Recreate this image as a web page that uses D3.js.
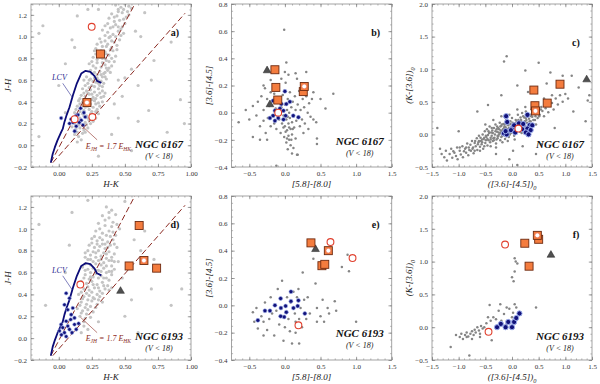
<!DOCTYPE html>
<html>
<head>
<meta charset="utf-8">
<script src="https://cdn.jsdelivr.net/npm/d3@7"></script>
<style>
body{margin:0;background:#fff}
text{font-family:"Liberation Serif","DejaVu Serif",serif}
</style>
</head>
<body>
<script>
let width = 600
let height = 384

// tick labels
let ticksHK = [0, 0.25, 0.5, 0.75, 1.0]
let ticksJH = [-0.2, 0, 0.2, 0.4, 0.6, 0.8, 1.0, 1.2]
let ticks58 = [-0.5, 0, 0.5, 1.0, 1.5]
let ticks36 = [-0.4, -0.2, 0, 0.2, 0.4, 0.6, 0.8]
let ticks3645 = [-1.5, -1.0, -0.5, 0, 0.5, 1.0, 1.5]
let ticksK36 = [-0.5, 0, 0.5, 1.0, 1.5, 2.0]

let panelLabels = ["a)", "b)", "c)", "d)", "e)", "f)"]
let clusters = ["NGC 6167", "NGC 6193"]

// intrinsic locus (LCV) and reddening vectors, J-H vs H-K
let lcv = [[-0.06,-0.16],[-0.046,-0.08],[-0.03,-0.02],[-0.01,0.045],[0.018,0.12],[0.03,0.15],[0.043,0.215],[0.06,0.28],[0.081,0.35],[0.107,0.46],[0.137,0.57],[0.17,0.66],[0.203,0.685],[0.239,0.676],[0.271,0.636],[0.289,0.593],[0.322,0.574]]
let redLine1 = [[-0.06,-0.16],[0.575,1.3]]
let redLine2 = [[-0.045,-0.16],[0.955,1.215]]

// panel a: NGC 6167 J-H vs H-K
let grayA = [[0.43,1.29],[0.47,1.27],[0.50,1.30],[0.53,1.28],[0.45,1.25],[0.55,1.26],
  [0.40,1.21],[0.44,1.19],[0.48,1.22],[0.51,1.18],[0.38,1.17],[0.46,1.15],[0.53,1.2],[0.42,1.14],
  [0.35,1.10],[0.39,1.08],[0.43,1.11],[0.47,1.07],[0.50,1.12],[0.37,1.04],[0.41,1.02],[0.45,1.05],[0.33,1.06],[0.49,1.03],
  [0.31,0.98],[0.35,0.96],[0.38,0.99],[0.42,0.95],[0.46,0.97],[0.29,0.93],[0.33,0.91],[0.37,0.93],[0.40,0.90],[0.44,0.92],
  [0.27,0.87],[0.30,0.85],[0.35,0.86],[0.38,0.83],[0.41,0.87],[0.26,0.81],[0.29,0.79],[0.33,0.8],[0.36,0.78],[0.40,0.80],[0.43,0.82],
  [0.23,0.75],[0.26,0.73],[0.29,0.76],[0.32,0.72],[0.35,0.74],[0.38,0.71],[0.24,0.69],[0.27,0.67],[0.31,0.68],[0.34,0.66],[0.37,0.69],[0.40,0.73],
  [0.21,0.63],[0.24,0.61],[0.27,0.62],[0.30,0.60],[0.33,0.63],[0.36,0.61],[0.22,0.57],[0.25,0.55],[0.28,0.58],[0.31,0.55],[0.34,0.57],[0.19,0.6],
  [0.18,0.52],[0.21,0.50],[0.24,0.51],[0.27,0.49],[0.30,0.52],[0.33,0.50],[0.17,0.46],[0.20,0.45],[0.23,0.47],[0.26,0.44],[0.29,0.46],[0.32,0.44],[0.35,0.48],
  [0.15,0.41],[0.18,0.40],[0.21,0.42],[0.24,0.38],[0.27,0.41],[0.30,0.39],[0.33,0.40],[0.14,0.36],[0.17,0.34],[0.20,0.35],[0.23,0.33],[0.26,0.35],[0.29,0.33],
  [0.12,0.30],[0.15,0.28],[0.18,0.29],[0.21,0.27],[0.24,0.29],[0.27,0.27],[0.30,0.29],[0.11,0.24],[0.14,0.22],[0.17,0.23],[0.20,0.21],[0.23,0.23],[0.26,0.22],
  [0.10,0.17],[0.13,0.15],[0.16,0.16],[0.19,0.14],[0.22,0.16],[0.12,0.1],[0.15,0.08],[0.18,0.11],[0.14,0.03],[0.17,0.05],
  [0.45,1.23],[0.49,1.25],[0.52,1.23],[0.42,1.18],[0.49,1.16],[0.37,1.12],[0.41,1.09],[0.45,1.09],[0.48,1.09],[0.35,1.01],[0.39,1.0],[0.43,1.0],
  [0.47,1.01],[0.32,0.95],[0.36,0.91],[0.40,0.96],[0.44,0.88],[0.28,0.89],[0.32,0.87],[0.36,0.84],[0.39,0.88],[0.28,0.84],[0.31,0.81],[0.35,0.8],
  [0.38,0.77],[0.42,0.77],[0.25,0.77],[0.28,0.71],[0.33,0.76],[0.36,0.71],[0.39,0.67],[0.25,0.66],[0.29,0.65],[0.32,0.65],[0.35,0.67],[0.23,0.6],
  [0.26,0.59],[0.29,0.62],[0.32,0.59],[0.35,0.63],[0.2,0.55],[0.23,0.53],[0.27,0.54],[0.3,0.57],[0.33,0.54],[0.19,0.48],[0.22,0.48],[0.25,0.47],
  [0.28,0.43],[0.31,0.48],[0.34,0.45],[0.16,0.43],[0.19,0.42],[0.22,0.38],[0.25,0.42],[0.28,0.38],[0.31,0.36],[0.16,0.38],[0.19,0.32],[0.22,0.36],
  [0.25,0.31],[0.28,0.31],[0.13,0.33],[0.16,0.31],[0.19,0.27],[0.22,0.25],[0.25,0.26],[0.28,0.25],[0.13,0.27],[0.16,0.25],[0.18,0.19],[0.21,0.19],
  [0.24,0.2],[0.12,0.2],[0.15,0.19],[0.14,0.12],[0.2,0.12],
  [-0.15,1.03],[-0.12,1.10],[0.14,1.19],[0.10,0.97],[0.12,0.9],[0.05,0.75],[-0.15,0.08],[0.92,0.42],[0.68,0.32],[0.82,0.12],[0.60,0.55],[0.72,0.78],
  [0.85,0.95],[0.62,1.0],[0.55,0.7],[0.48,0.45],[0.45,0.25],[0.4,0.1],[0.55,-0.05],[0.3,-0.1],[0.7,0.6],[0.95,0.2],[0.6,0.22],[0.0,0.55],
  [0.05,0.3],[0.22,1.25],[0.3,1.25],[0.58,1.05],[0.65,1.22],[0.5,0.62],[0.45,0.6],[0.42,0.38]]
let blueA = [[0.018,0.25],[0.094,0.24],[0.145,0.28],[0.165,0.34],[0.107,0.21],[0.132,0.175],[0.17,0.23],[0.19,0.30],[0.12,0.13],[0.081,0.20],[0.183,0.185],[0.2,0.26],[0.155,0.21],[0.13,0.27]]
let sqA = [[0.315,0.84]]
let sqDotA = [[0.213,0.393]]
let circA = [[0.249,1.09],[0.12,0.24],[0.254,0.26]]
let triA = []

// panel b: NGC 6167 [3.6]-[4.5] vs [5.8]-[8.0]
let grayB = [[-0.45,0.05],[-0.4,-0.02],[-0.38,0.08],[-0.35,-0.1],[-0.33,0.12],[-0.3,0.02],[-0.3,-0.06],[-0.28,0.18],[-0.27,-0.15],[-0.25,0.1],
  [-0.24,-0.04],[-0.22,0.05],[-0.2,0.15],[-0.2,-0.1],[-0.18,-0.02],[-0.17,0.08],[-0.15,-0.08],[-0.15,0.14],[-0.13,0.03],[-0.12,-0.12],
  [-0.1,0.0],[-0.1,0.2],[-0.08,-0.05],[-0.07,0.1],[-0.06,-0.15],[-0.05,0.04],[-0.04,-0.08],[-0.03,0.13],[-0.02,-0.02],[-0.01,-0.18],
  [0.0,0.06],[0.0,-0.1],[0.01,0.22],[0.02,-0.05],[0.02,-0.22],[0.03,0.02],[0.03,-0.13],[0.04,0.1],[0.04,-0.27],[0.05,-0.08],
  [0.05,-0.17],[0.06,0.0],[0.06,-0.2],[0.07,-0.04],[0.07,0.15],[0.08,-0.12],[0.08,-0.24],[0.09,0.04],[0.1,-0.07],[0.1,-0.16],
  [0.11,0.08],[0.12,-0.02],[0.12,-0.26],[0.13,-0.11],[0.14,0.12],[0.15,0.02],[0.15,-0.19],[0.16,-0.06],[0.17,0.25],[0.18,0.06],
  [0.19,-0.03],[0.2,0.16],[0.21,-0.1],[0.22,0.02],[0.24,-0.05],[0.25,0.1],[0.27,0.04],[0.28,-0.08],[0.3,0.12],[0.32,0.0],
  [0.34,0.07],[0.36,-0.03],[0.38,0.1],[0.4,0.15],[0.0,0.3],[0.02,0.37],[0.15,0.29],[-0.3,0.2],[-0.2,0.24],[0.3,0.3],
  [0.4,-0.05],[-0.35,-0.2],[-0.5,-0.05],[0.18,-0.31],[0.1,-0.3],[-0.05,0.25],[0.05,0.28],[-0.25,-0.2],[0.26,-0.15],[0.33,-0.12],
  [0.01,-0.14],[0.03,-0.19],[0.06,-0.11],[0.09,-0.2],[-0.02,-0.11],[0.04,-0.03],[0.11,-0.12],[-0.08,0.03],
  [-0.01,0.61],[0.68,0.14],[0.57,0.03],[0.44,-0.07],[0.45,-0.23],[0.45,-0.19],[-0.65,-0.07],[-0.12,-0.39],[0.17,-0.31],[0.5,0.1],[-0.45,-0.18],[-0.55,0.02]]
let blueB = [[0.0,0.157],[-0.165,0.088],[-0.05,0.064],[0.02,0.064],[0.07,0.08],[-0.14,0.015],[-0.07,0.03],[-0.02,0.015],[-0.165,-0.022],[-0.094,-0.04],[0.01,-0.022],[0.117,-0.022],[0.19,-0.034],[-0.21,-0.04],[-0.14,-0.06],[-0.02,-0.05]]
let sqB = [[-0.14,0.316],[-0.127,0.186],[-0.1,0.093],[0.258,0.155]]
let sqDotB = [[0.272,0.193]]
let circB = [[-0.094,0.0]]
let triB = [[-0.25,0.31],[-0.21,0.06]]

// panel c: NGC 6167 (K-[3.6])0 vs ([3.6]-[4.5])0
let grayC = [[-1.35,-0.22],[-1.32,-0.3],[-1.27,-0.35],[-1.24,-0.25],[-1.22,-0.4],[-1.17,-0.3],[-1.14,-0.22],[-1.12,-0.36],
  [-1.08,-0.28],[-1.05,-0.33],[-1.03,-0.2],[-1.02,-0.38],[-0.98,-0.25],[-0.96,-0.31],[-0.93,-0.18],[-0.92,-0.35],
  [-0.88,-0.22],[-0.86,-0.28],[-0.84,-0.14],[-0.82,-0.32],[-0.81,-0.2],[-0.78,-0.16],[-0.77,-0.25],[-0.75,-0.1],[-0.73,-0.2],[-0.72,-0.29],[-0.7,-0.13],
  [-0.68,-0.18],[-0.66,-0.06],[-0.65,-0.24],[-0.63,-0.12],[-0.62,-0.02],[-0.6,-0.19],
  [-0.58,-0.1],[-0.57,-0.15],[-0.55,0.0],[-0.54,-0.22],[-0.53,-0.07],[-0.51,0.05],[-0.5,-0.13],
  [-0.48,-0.04],[-0.47,0.08],[-0.46,-0.17],[-0.44,-0.09],[-0.43,0.02],[-0.42,0.12],[-0.41,-0.12],
  [-0.38,-0.02],[-0.37,0.06],[-0.36,-0.1],[-0.34,0.1],[-0.33,-0.05],[-0.32,0.0],[-0.31,0.15],[-0.3,-0.14],
  [-0.28,0.04],[-0.27,-0.06],[-0.26,0.1],[-0.24,0.0],[-0.23,0.18],[-0.22,-0.09],[-0.21,0.06],[-0.2,0.13],
  [-0.18,-0.02],[-0.17,0.08],[-0.16,0.16],[-0.14,0.03],[-0.13,-0.07],[-0.12,0.11],[-0.11,0.22],[-0.1,0.0],
  [-0.08,0.06],[-0.07,0.14],[-0.06,-0.04],[-0.04,0.1],[-0.03,0.2],[-0.02,0.02],[-0.01,0.12],[0.0,0.25],
  [0.02,0.08],[0.03,0.17],[0.04,-0.02],[0.06,0.12],[0.07,0.22],[0.08,0.05],[0.1,0.15],[0.11,0.3],
  [0.12,0.1],[0.14,0.2],[0.15,0.04],[0.16,0.26],[0.18,0.14],[0.19,0.33],[0.2,0.08],
  [0.22,0.18],[0.23,0.26],[0.25,0.12],[0.26,0.35],[0.27,0.22],[0.29,0.28],[0.3,0.16],
  [0.32,0.24],[0.34,0.3],[0.35,0.2],[0.37,0.38],[0.38,0.27],[0.4,0.22],
  [0.42,0.32],[0.44,0.28],[0.46,0.4],[0.48,0.25],[0.5,0.35],[0.52,0.3],[0.55,0.42],[0.57,0.36],[0.6,0.28],
  [0.63,0.4],[0.66,0.5],[0.68,0.34],[0.7,0.44],[0.75,0.48],[0.78,0.38],[0.82,0.55],[0.86,0.46],[0.9,0.6],[0.95,0.5],[1.0,0.62],[1.05,0.55],
  [-0.52,-0.05],[-0.45,-0.01],[-0.39,0.03],[-0.35,-0.06],[-0.29,0.08],[-0.25,0.03],[-0.19,0.05],[-0.15,0.1],[-0.09,0.08],[-0.05,0.03],[0.01,0.1],[0.05,0.15],
  [-0.62,-0.1],[-0.56,-0.08],[-0.49,-0.09],[-0.4,-0.05],[-0.27,-0.02],[-0.22,0.12],[-0.14,0.15],[0.09,0.2],[0.17,0.2],[0.24,0.2],
  [-0.9,-0.26],[-0.8,-0.24],[-0.74,-0.22],[-0.69,-0.1],[-0.64,-0.15],[-0.59,-0.05],[-0.56,-0.12],[-0.52,-0.18],[-0.49,-0.02],[-0.46,-0.07],
  [-0.44,0.05],[-0.4,-0.08],[-0.38,0.1],[-0.36,0.02],[-0.34,-0.09],[-0.31,0.05],[-0.29,-0.08],[-0.28,0.12],[-0.26,-0.03],[-0.24,0.08],
  [-0.22,0.02],[-0.2,-0.04],[-0.19,0.15],[-0.17,0.0],[-0.16,0.05],[-0.14,0.12],[-0.12,0.04],[-0.11,-0.03],[-0.09,0.15],[-0.08,-0.01],
  [-0.06,0.1],[-0.04,0.0],[-0.03,0.16],[-0.01,0.06],[0.01,0.18],[0.03,0.1],[0.05,0.05],[0.07,0.17],[0.09,0.1],[0.12,0.22],
  [0.13,0.16],[0.15,0.12],[0.17,0.22],[0.2,0.18],[0.21,0.28],[0.23,0.14],[0.26,0.25],[0.28,0.18],[0.31,0.3],[0.33,0.2],
  [0.36,0.28],[0.39,0.33],[0.43,0.22],[0.47,0.33],[0.51,0.28],[0.54,0.38],[-0.98,-0.2],[-1.1,-0.26],[-0.86,-0.2],[-0.6,-0.25],
  [-0.7,-0.25],[-0.4,-0.18],[-0.3,-0.2],[-0.18,-0.12],[-0.08,-0.1],[0.05,-0.08],[0.18,0.02],[0.3,0.08],[0.45,0.15],[-0.5,0.15],
  [-0.35,0.22],[-0.2,0.28],[-0.05,0.3],[0.1,0.38],[0.25,0.42],[0.4,0.45],[0.6,0.55],[0.75,0.6],
  [1.45,0.6],[1.42,0.52],[1.38,0.2],[1.15,0.35],[1.12,0.9],[0.95,0.9],[0.72,0.95],[0.25,0.98],[-0.1,1.2],[-0.15,1.12],[0.5,1.1],
  [0.1,0.75],[-0.2,0.6],[-0.45,0.45],[-0.65,0.35],[-0.05,-0.38],[0.1,-0.47],[0.55,-0.15],[0.45,-0.3],[0.8,0.1],[-1.4,0.1],[-1.0,0.05],
  [0.3,0.65],[0.65,0.78],[1.25,0.72],[0.02,-0.25],[-0.3,-0.3],[0.2,-0.18]]
let blueC = [[-0.11,0.28],[-0.09,0.19],[0.0,0.09],[-0.15,0.015],[-0.1,0.0],[-0.02,0.065],[0.04,0.14],[0.13,0.17],[0.19,0.08],[0.21,0.16],[0.29,0.3],[0.33,0.14],[0.38,0.14],[0.29,0.09],[0.26,0.03],[0.35,0.066],[0.31,0.0],[0.06,0.03],[-0.12,0.05]]
let sqC = [[0.41,0.68],[0.9,0.77],[0.66,0.48],[0.43,0.44]]
let sqDotC = [[0.44,0.36]]
let circC = [[0.12,0.09]]
let triC = [[1.4,0.84]]

// panel d: NGC 6193 J-H vs H-K
let grayD = [[0.36,1.2],[0.4,1.17],[0.33,1.12],[0.38,1.1],[0.43,1.13],[0.3,1.05],[0.35,1.03],[0.41,1.06],[0.46,1.0],[0.28,0.98],[0.33,0.96],[0.38,0.98],[0.43,0.94],
  [0.25,0.91],[0.29,0.89],[0.33,0.9],[0.37,0.88],[0.41,0.9],[0.23,0.85],[0.27,0.83],[0.31,0.84],[0.35,0.82],[0.39,0.85],[0.44,0.83],
  [0.2,0.78],[0.24,0.76],[0.28,0.78],[0.32,0.75],[0.36,0.77],[0.4,0.74],[0.22,0.72],[0.26,0.70],[0.3,0.71],[0.34,0.69],[0.38,0.71],[0.42,0.7],
  [0.18,0.65],[0.22,0.63],[0.26,0.64],[0.3,0.62],[0.34,0.64],[0.38,0.61],[0.42,0.63],[0.2,0.58],[0.24,0.56],[0.28,0.59],[0.32,0.57],[0.36,0.55],[0.4,0.58],
  [0.17,0.52],[0.21,0.5],[0.25,0.52],[0.29,0.49],[0.33,0.51],[0.37,0.48],[0.19,0.45],[0.23,0.44],[0.27,0.46],[0.31,0.43],[0.35,0.45],[0.4,0.46],
  [0.15,0.4],[0.19,0.38],[0.23,0.39],[0.27,0.36],[0.31,0.38],[0.17,0.33],[0.21,0.31],[0.25,0.34],[0.29,0.31],[0.33,0.33],
  [0.14,0.27],[0.18,0.25],[0.22,0.26],[0.26,0.24],[0.16,0.2],[0.2,0.18],[0.24,0.19],[0.15,0.13],[0.19,0.11],[0.22,0.08],[0.17,0.05],
  [0.38,1.15],[0.35,1.08],[0.4,1.02],[0.44,1.04],[0.31,1.0],[0.36,0.94],[0.41,0.97],[0.27,0.93],[0.31,0.92],[0.35,0.86],[0.39,0.93],
  [0.25,0.87],[0.29,0.86],[0.33,0.86],[0.37,0.83],[0.42,0.86],[0.22,0.8],[0.26,0.79],[0.3,0.8],[0.34,0.78],[0.38,0.79],[0.42,0.77],
  [0.2,0.74],[0.24,0.72],[0.28,0.74],[0.32,0.72],[0.36,0.73],[0.4,0.71],[0.2,0.68],[0.24,0.67],[0.28,0.68],[0.32,0.67],[0.36,0.66],
  [0.4,0.66],[0.2,0.62],[0.24,0.6],[0.28,0.62],[0.32,0.61],[0.36,0.6],[0.4,0.61],[0.19,0.55],[0.23,0.54],[0.26,0.56],[0.3,0.55],
  [0.34,0.55],[0.38,0.53],[0.18,0.49],[0.22,0.47],[0.26,0.49],[0.3,0.46],[0.34,0.48],[0.38,0.44],[0.17,0.42],[0.21,0.41],[0.25,0.42],
  [0.29,0.4],[0.33,0.41],[0.18,0.36],[0.22,0.35],[0.26,0.37],[0.3,0.35],[0.16,0.3],[0.2,0.28],[0.24,0.29],[0.28,0.28],[0.17,0.23],
  [0.21,0.22],[0.19,0.15],
  [-0.15,1.04],[0.1,1.15],[0.22,1.26],[0.5,1.25],[0.57,0.9],[0.62,0.8],[0.72,0.72],[0.93,0.45],[0.85,0.3],[0.55,0.35],[0.5,0.2],
  [0.6,0.05],[0.05,0.6],[0.08,0.85],[-0.1,0.3],[0.45,0.7],[0.48,0.55],[0.7,0.45],[0.3,0.15],[0.65,0.98]]
let blueD = [[0.056,0.41],[0.081,0.365],[0.043,0.305],[0.068,0.26],[0.106,0.275],[0.094,0.215],[0.119,0.185],[0.056,0.155],[0.018,0.125],[0.03,0.096],[0.068,0.11],[0.005,0.066],[0.043,0.05],[0.056,0.015],[0.081,0.08],[0.119,0.125],[0.15,0.134],[0.132,0.08],[0.02,0.03],[0.1,0.05],[0.09,0.17]]
let sqD = [[0.608,1.03],[0.532,0.66],[0.74,0.64]]
let sqDotD = [[0.644,0.71]]
let circD = [[0.163,0.49]]
let triD = [[0.467,0.43]]

// panel e: NGC 6193 [3.6]-[4.5] vs [5.8]-[8.0]
let grayE = [[-0.43,-0.12],[-0.4,-0.02],[-0.38,-0.17],[-0.33,-0.08],[-0.3,-0.12],[-0.28,0.02],[-0.25,-0.18],[-0.22,-0.1],[-0.2,0.06],[-0.18,-0.06],
  [-0.15,-0.22],[-0.12,-0.04],[-0.1,0.12],[-0.08,-0.14],[-0.05,-0.08],[-0.04,0.18],[-0.02,-0.26],[0.0,-0.16],[0.03,0.06],[0.05,-0.1],
  [0.07,-0.19],[0.08,0.02],[0.1,-0.28],[0.12,0.1],[0.14,-0.06],[0.15,-0.2],[0.17,0.06],[0.19,0.12],[0.2,-0.1],[0.22,-0.02],
  [0.24,-0.16],[0.25,0.24],[0.27,0.04],[0.3,-0.1],[0.32,0.06],[0.35,-0.06],[0.4,0.34],[0.43,0.16],[0.45,-0.12],[0.5,-0.08],
  [0.53,0.04],[0.55,-0.12],[0.6,-0.02],[0.62,-0.06],[0.7,0.03],[0.72,-0.04],[0.8,0.28],[0.88,0.37],[0.9,0.25],[1.0,-0.12],
  [0.45,-0.02],[0.2,-0.28],[-0.3,-0.22],[0.15,-0.12],[-0.45,-0.05]]
let blueE = [[0.085,0.10],[-0.06,0.05],[0.085,0.03],[-0.14,0.0],[0.01,-0.005],[0.19,0.036],[0.18,-0.005],[-0.21,-0.04],[-0.28,-0.04],[-0.056,-0.02],[0.02,-0.05],[-0.01,-0.085],[0.28,-0.06],[-0.38,-0.11],[-0.06,-0.08],[0.12,-0.02]]
let sqE = [[0.366,0.457],[0.52,0.29],[0.56,0.30]]
let sqDotE = [[0.61,0.40]]
let circE = [[0.64,0.463],[0.95,0.346],[0.19,-0.146]]
let triE = [[0.43,0.41]]

// panel f: NGC 6193 (K-[3.6])0 vs ([3.6]-[4.5])0
let grayF = [[-1.15,-0.3],[-1.05,-0.12],[-0.98,-0.15],[-0.95,-0.1],[-0.92,-0.18],[-0.88,-0.12],[-0.85,-0.08],[-0.82,-0.14],[-0.8,-0.43],[-0.78,-0.1],
  [-0.75,-0.06],[-0.72,-0.12],[-0.7,-0.04],[-0.68,-0.08],[-0.65,0.0],[-0.62,-0.05],[-0.6,-0.1],[-0.58,0.02],[-0.55,-0.02],[-0.52,0.0],
  [-0.48,0.06],[-0.45,0.15],[-0.42,0.34],[-0.4,0.1],[-0.38,-0.2],[-0.35,0.15],[-0.3,0.12],[-0.25,0.25],[-0.22,0.35],[-0.2,0.1],
  [-0.15,0.2],[-0.1,0.3],[-0.05,0.28],[0.0,0.15],[0.02,0.22],[0.05,0.35],[0.08,0.3],[0.0,0.76],[0.03,0.7],[0.05,0.85],
  [0.05,1.05],[0.07,1.0],[0.1,0.97],[0.45,0.3],[-0.85,-0.15],[-0.75,-0.18],[-0.6,-0.15],[-0.1,0.05]]
let blueF = [[-0.28,0.0],[-0.21,0.05],[-0.12,0.0],[-0.07,0.08],[0.0,0.0],[0.04,0.08],[0.08,0.14],[0.14,0.21]]
let sqF = [[0.24,1.28],[0.5,1.34],[0.32,0.93]]
let sqDotF = [[0.475,1.40]]
let circF = [[-0.13,1.26],[-0.44,-0.07]]
let triF = [[0.73,1.1]]

let cols = [{x0: 31, x1: 191}, {x0: 231.5, x1: 391.7}, {x0: 432, x1: 592}]
let rows = [{y0: 4, y1: 167}, {y0: 196, y1: 360}]

let kinds = [
    {xd: [-0.21, 1.0], yd: [-0.2, 1.3], xt: ticksHK, yt: ticksJH, xf: ".2f", xm: 0.05, ym: 0.05, xtitle: ["H-K"], ytitle: ["J-H"], light: true, jhk: true},
    {xd: [-0.75, 1.5], yd: [-0.4, 0.8], xt: ticks58, yt: ticks36, xf: ".1f", xm: 0.1, ym: 0.05, xtitle: ["[5.8]-[8.0]"], ytitle: ["[3.6]-[4.5]"]},
    {xd: [-1.5, 1.5], yd: [-0.5, 2.0], xt: ticks3645, yt: ticksK36, xf: ".1f", xm: 0.1, ym: 0.1, xtitle: ["([3.6]-[4.5])", "0"], ytitle: ["(K-[3.6])", "0"]}
]

let sets = [
    {gray: grayA, blue: blueA, sq: sqA, sqDot: sqDotA, circ: circA, tri: triA},
    {gray: grayB, blue: blueB, sq: sqB, sqDot: sqDotB, circ: circB, tri: triB},
    {gray: grayC, blue: blueC, sq: sqC, sqDot: sqDotC, circ: circC, tri: triC},
    {gray: grayD, blue: blueD, sq: sqD, sqDot: sqDotD, circ: circD, tri: triD},
    {gray: grayE, blue: blueE, sq: sqE, sqDot: sqDotE, circ: circE, tri: triE},
    {gray: grayF, blue: blueF, sq: sqF, sqDot: sqDotF, circ: circF, tri: triF}
]

let svg = d3.select("body").append("svg")
    .attr("width", width)
    .attr("height", height)

let defs = svg.append("defs")

let addTitle = (sel, parts, size) => {
    sel.append("tspan").text(parts[0])
    if (parts[1]) sel.append("tspan").attr("font-size", size * 0.7).attr("dy", 2.5).text(parts[1])
}

let drawPanel = (i) => {
    let col = cols[i % 3], row = rows[Math.floor(i / 3)], k = kinds[i % 3], d = sets[i]
    let x = d3.scaleLinear().domain(k.xd).range([col.x0, col.x1])
    let y = d3.scaleLinear().domain(k.yd).range([row.y1, row.y0])
    let g = svg.append("g")

    defs.append("clipPath").attr("id", "clip" + i)
        .append("rect")
        .attr("x", col.x0).attr("y", row.y0)
        .attr("width", col.x1 - col.x0).attr("height", row.y1 - row.y0)

    let plot = g.append("g").attr("clip-path", "url(#clip" + i + ")")

    plot.selectAll(".gray").data(d.gray).join("circle")
        .attr("class", "gray")
        .attr("cx", p => x(p[0]))
        .attr("cy", p => y(p[1]))
        .attr("r", k.light ? 1.6 : 1.25)
        .attr("fill", k.light ? "#c4c4c4" : "#858585")

    if (k.jhk) {
        let ln = d3.line().x(p => x(p[0])).y(p => y(p[1]))
        ;[redLine1, redLine2].forEach(r => {
            plot.append("path").attr("d", ln(r))
                .attr("fill", "none").attr("stroke", "#8b2a22")
                .attr("stroke-width", 1).attr("stroke-dasharray", "6,3")
        })
        plot.append("path").attr("d", ln(lcv))
            .attr("fill", "none").attr("stroke", "#0c0c78")
            .attr("stroke-width", 1.8).attr("stroke-linejoin", "round")

        // annotations
        g.append("line")
            .attr("x1", x(0.03)).attr("y1", y(0.57)).attr("x2", x(0.1)).attr("y2", y(0.445))
            .attr("stroke", "#2a2a90").attr("stroke-width", 0.6)
        g.append("text").attr("x", x(0.005)).attr("y", y(0.6))
            .attr("text-anchor", "middle").attr("font-size", 8).attr("font-style", "italic")
            .attr("fill", "#2a2a90").text("LCV")
        g.append("line")
            .attr("x1", x(0.29)).attr("y1", y(0.05)).attr("x2", x(0.165)).attr("y2", y(0.19))
            .attr("stroke", "#8b2a22").attr("stroke-width", 0.6)
        let et = g.append("text").attr("x", x(0.375)).attr("y", y(-0.03))
            .attr("text-anchor", "middle").attr("font-size", 8).attr("font-style", "italic")
            .attr("fill", "#8b2a22")
        et.append("tspan").text("E")
        et.append("tspan").attr("font-size", 5.5).attr("dy", 2).text("JH")
        et.append("tspan").attr("dy", -2).text(" = 1.7 E")
        et.append("tspan").attr("font-size", 5.5).attr("dy", 2).text("HK")
    }

    let blueR = i % 3 == 2 ? 2.6 : (i % 3 == 1 ? 2.0 : 1.8)
    plot.selectAll(".blue").data(d.blue).join("circle")
        .attr("class", "blue")
        .attr("cx", p => x(p[0]))
        .attr("cy", p => y(p[1]))
        .attr("r", blueR)
        .attr("fill", "#12127a")
        .attr("stroke", "#9fb0ee")
        .attr("stroke-width", i % 3 == 2 ? 1 : 0.6)

    plot.selectAll(".tri").data(d.tri).join("path")
        .attr("class", "tri")
        .attr("transform", p => "translate(" + x(p[0]) + "," + y(p[1]) + ")")
        .attr("d", d3.symbol(d3.symbolTriangle, 26))
        .attr("fill", "#505050").attr("stroke", "#222").attr("stroke-width", 0.5)

    plot.selectAll(".circ").data(d.circ).join("circle")
        .attr("class", "circ")
        .attr("cx", p => x(p[0]))
        .attr("cy", p => y(p[1]))
        .attr("r", 3.4)
        .attr("fill", "#fff").attr("stroke", "#e0402e").attr("stroke-width", 1.1)

    let sqs = d.sq.concat(d.sqDot)
    plot.selectAll(".sq").data(sqs).join("rect")
        .attr("class", "sq")
        .attr("x", p => x(p[0]) - 4)
        .attr("y", p => y(p[1]) - 4)
        .attr("width", 8).attr("height", 8)
        .attr("fill", "#f47c3e").attr("stroke", "#6e2a10").attr("stroke-width", 0.9)

    plot.selectAll(".dot").data(d.sqDot).join("circle")
        .attr("class", "dot")
        .attr("cx", p => x(p[0]))
        .attr("cy", p => y(p[1]))
        .attr("r", 2.4)
        .attr("fill", "#fff").attr("stroke", "#e86a50").attr("stroke-width", 0.6)

    // frame and ticks on all four sides
    g.append("rect")
        .attr("x", col.x0).attr("y", row.y0)
        .attr("width", col.x1 - col.x0).attr("height", row.y1 - row.y0)
        .attr("fill", "none").attr("stroke", "#9a9a9a").attr("stroke-width", 0.9)

    let eps = 1e-6
    let xMinor = d3.range(Math.ceil(k.xd[0] / k.xm) * k.xm, k.xd[1] + eps, k.xm)
    let yMinor = d3.range(Math.ceil(k.yd[0] / k.ym) * k.ym, k.yd[1] + eps, k.ym)

    let axes = [
        [d3.axisBottom(x), row.y1, 0, k.xt, xMinor, true],
        [d3.axisTop(x), row.y0, 0, k.xt, xMinor, false],
        [d3.axisLeft(y), 0, col.x0, k.yt, yMinor, true],
        [d3.axisRight(y), 0, col.x1, k.yt, yMinor, false]
    ]
    axes.forEach(([ax, ty, tx, major, minor, labels], j) => {
        let fmt = j < 2 ? d3.format(k.xf) : d3.format(".1f")
        let a = g.append("g").attr("transform", "translate(" + tx + "," + ty + ")")
            .call(ax.tickValues(minor).tickSize(-1.6).tickFormat(""))
        a.select(".domain").remove()
        a.selectAll("line").attr("stroke", "#8a8a8a").attr("stroke-width", 0.6)
        let b = g.append("g").attr("transform", "translate(" + tx + "," + ty + ")")
            .call(ax.tickValues(major).tickSize(-3.2).tickPadding(4).tickFormat(labels ? fmt : ""))
        b.select(".domain").remove()
        b.selectAll("line").attr("stroke", "#777").attr("stroke-width", 0.7)
        b.selectAll("text").attr("font-family", "Liberation Serif, serif").attr("font-size", 7).attr("fill", "#333")
        b.attr("font-family", null)
    })

    // axis titles
    let xt = g.append("text")
        .attr("x", (col.x0 + col.x1) / 2).attr("y", row.y1 + 20)
        .attr("text-anchor", "middle").attr("font-size", 9).attr("font-style", "italic").attr("fill", "#222")
    addTitle(xt, k.xtitle, 9)
    let yt = g.append("text")
        .attr("transform", "translate(" + (col.x0 - 20) + "," + ((row.y0 + row.y1) / 2) + ") rotate(-90)")
        .attr("text-anchor", "middle").attr("font-size", 9).attr("font-style", "italic").attr("fill", "#222")
    addTitle(yt, k.ytitle, 9)

    // panel letter and cluster name
    g.append("text")
        .attr("x", col.x1 - 16).attr("y", row.y0 + (i % 3 == 2 ? 42 : 32))
        .attr("text-anchor", "middle").attr("font-size", 10).attr("font-weight", "bold").attr("fill", "#111")
        .text(panelLabels[i])
    let cx = col.x1 - 32
    let base = row.y0 + (i % 3 == 1 ? 141 : 144)
    g.append("text")
        .attr("x", cx).attr("y", base)
        .attr("text-anchor", "middle").attr("font-size", 11).attr("font-weight", "bold").attr("font-style", "italic").attr("fill", "#111")
        .text(clusters[Math.floor(i / 3)])
    g.append("text")
        .attr("x", cx).attr("y", base + 11)
        .attr("text-anchor", "middle").attr("font-size", 8).attr("font-style", "italic").attr("fill", "#222")
        .text("(V < 18)")
}

d3.range(6).forEach(drawPanel)
</script>
</body>
</html>
